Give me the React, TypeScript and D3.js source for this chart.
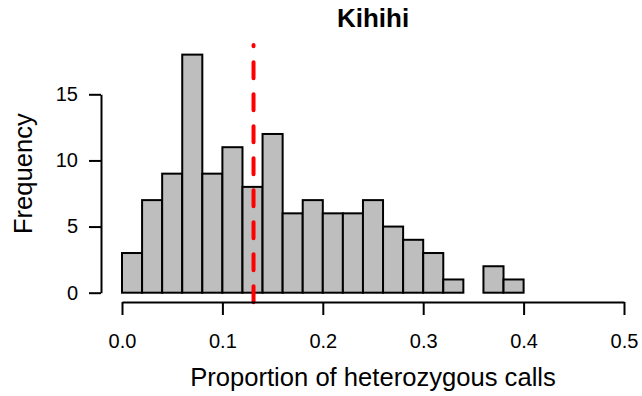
import React, { useEffect, useRef } from "react";
import * as d3 from "d3";

// Histogram bins of width 0.02 starting at 0
const binStarts = [0.0, 0.02, 0.04, 0.06, 0.08, 0.1, 0.12, 0.14, 0.16, 0.18, 0.2, 0.22, 0.24, 0.26, 0.28, 0.3, 0.32, 0.34, 0.36, 0.38];
const counts = [3, 7, 9, 18, 9, 11, 8, 12, 6, 7, 6, 6, 7, 5, 4, 3, 1, 0, 2, 1];
const binWidth = 0.02;
const xTicks = [0.0, 0.1, 0.2, 0.3, 0.4, 0.5];
const yTicks = [0, 5, 10, 15];
const meanValue = 0.131;

const W = 642;
const H = 396;
const FONT = "'Liberation Sans', Arial, Helvetica, sans-serif";

export default function App() {
  const xAxisRef = useRef<SVGGElement>(null);
  const yAxisRef = useRef<SVGGElement>(null);

  const x = d3.scaleLinear().domain([0, 0.5]).range([122, 624]);
  const y = d3.scaleLinear().domain([0, 15]).range([292.7, 94.3]);
  // plotting region spans the data range plus 4% on each side
  const yTop = y(18 * 1.04);
  const yBottom = y(-18 * 0.04);
  const xAxisY = 302;
  const yAxisX = 101;

  useEffect(() => {
    const gx = d3.select(xAxisRef.current);
    gx.selectAll("*").remove();
    gx.call(
      d3
        .axisBottom(x)
        .tickValues(xTicks)
        .tickFormat(d3.format(".1f"))
        .tickSize(13)
        .tickSizeOuter(0)
        .tickPadding(19)
    );
    gx.selectAll("path, line").attr("stroke", "#000").attr("stroke-width", 2);
    gx.selectAll("text").attr("font-size", 20).attr("font-family", FONT).attr("fill", "#000");

    const gy = d3.select(yAxisRef.current);
    gy.selectAll("*").remove();
    gy.call(
      d3
        .axisLeft(y)
        .tickValues(yTicks)
        .tickFormat(d3.format("d"))
        .tickSize(12)
        .tickSizeOuter(0)
        .tickPadding(11)
    );
    gy.selectAll("path, line").attr("stroke", "#000").attr("stroke-width", 2);
    gy.selectAll("text").attr("font-size", 20).attr("font-family", FONT).attr("fill", "#000");
  }, []);

  return (
    <svg
      width={W}
      height={H}
      style={{ position: "absolute", left: 0, top: 0, background: "#fff" }}
      fontFamily={FONT}
    >
      <rect x={0} y={0} width={W} height={H} fill="#fff" />
      <g>
        {binStarts.map((b, i) =>
          counts[i] > 0 ? (
            <rect
              key={i}
              x={x(b)}
              y={y(counts[i])}
              width={x(b + binWidth) - x(b)}
              height={y(0) - y(counts[i])}
              fill="#BEBEBE"
              stroke="#000"
              strokeWidth={2}
            />
          ) : null
        )}
      </g>
      <line
        x1={x(meanValue)}
        x2={x(meanValue)}
        y1={yBottom}
        y2={yTop}
        stroke="#FF0000"
        strokeWidth={4}
        strokeDasharray="16 16"
        strokeLinecap="round"
      />
      <g ref={xAxisRef} transform={`translate(0,${xAxisY})`} />
      <g ref={yAxisRef} transform={`translate(${yAxisX},0)`} />
      <text x={(x(-0.02) + x(0.52)) / 2} y={27} textAnchor="middle" fontSize={26} fontWeight="bold" fill="#000">
        Kihihi
      </text>
      <text x={(x(-0.02) + x(0.52)) / 2} y={386} textAnchor="middle" fontSize={25.6} fill="#000">
        Proportion of heterozygous calls
      </text>
      <text
        transform={`translate(32,${(yTop + yBottom) / 2}) rotate(-90)`}
        textAnchor="middle"
        fontSize={25.6}
        fill="#000"
      >
        Frequency
      </text>
    </svg>
  );
}
